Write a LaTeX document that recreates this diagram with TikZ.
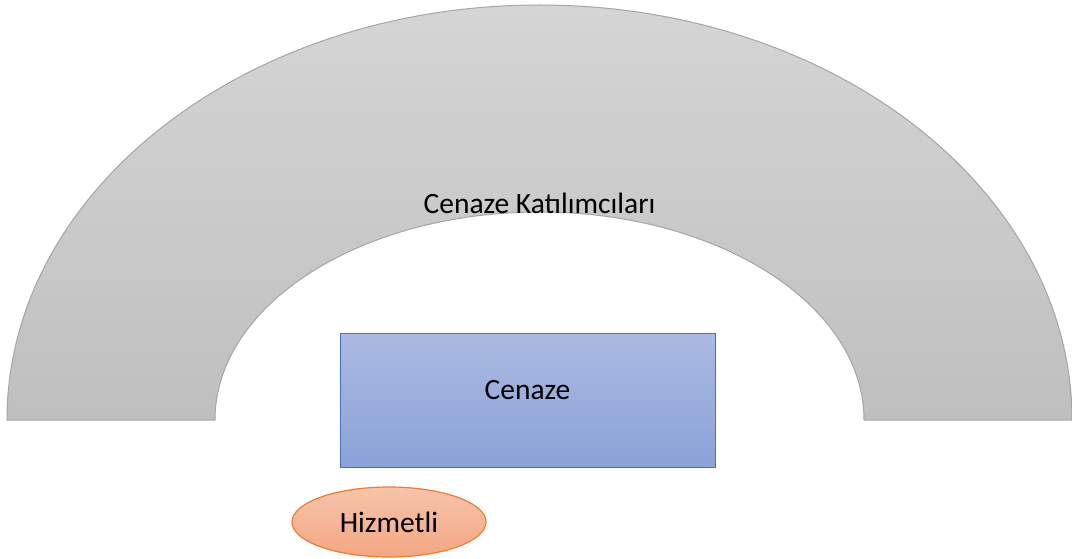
\documentclass[tikz,border=0pt]{standalone}
\usepackage{fontspec}
\setmainfont{Carlito}
\usetikzlibrary{shapes.geometric}

\definecolor{archline}{HTML}{A5A5A5}
\definecolor{archtop}{HTML}{D5D5D5}
\definecolor{archbot}{HTML}{BFBFBF}
\definecolor{boxline}{HTML}{4472C4}
\definecolor{boxtop}{HTML}{AAB9E1}
\definecolor{boxbot}{HTML}{8BA2D8}
\definecolor{ovalline}{HTML}{ED7D31}
\definecolor{ovaltop}{HTML}{F7C4AA}
\definecolor{ovalbot}{HTML}{F4A782}

\tikzset{
  txt/.style={font=\fontsize{29.5}{35}\selectfont, text=black},
  casket/.style={draw=boxline, line width=1pt, top color=boxtop, bottom color=boxbot,
    rectangle, inner sep=0pt, outer sep=0pt, txt},
  servant/.style={draw=ovalline, line width=1.2pt, top color=ovaltop, bottom color=ovalbot,
    ellipse, inner sep=0pt, outer sep=0pt, txt}
}

\begin{document}
\begin{tikzpicture}[x=1pt, y=1pt]
  \useasboundingbox (0,0) rectangle (1072,558);

  % mourners, half ring
  \draw[archline, line width=1pt, top color=archtop, bottom color=archbot]
    (7,138) arc[start angle=180, end angle=0, x radius=532.5, y radius=415]
    -- (864,138) arc[start angle=0, end angle=180, x radius=324.5, y radius=208]
    -- cycle;

  \node[txt] (katilimci) at (539.5,355) {Cenaze Katılımcıları};

  \node[casket, minimum width=375pt, minimum height=134pt, text depth=20pt]
    (cenaze) at (527.5,158) {Cenaze};

  \node[servant, minimum width=194pt, minimum height=70pt]
    (hizmetli) at (389,36) {Hizmetli};
\end{tikzpicture}
\end{document}
